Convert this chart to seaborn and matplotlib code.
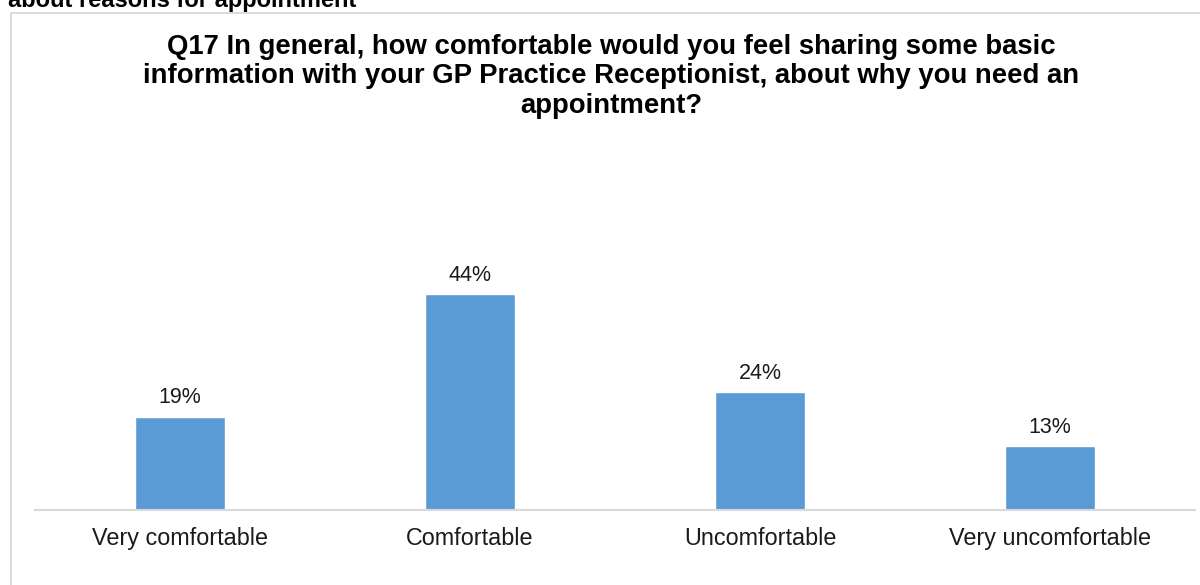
import matplotlib
matplotlib.use("Agg")
import matplotlib.pyplot as plt
import seaborn as sns
import pandas as pd
from matplotlib.patches import Rectangle

categories = ["Very comfortable", "Comfortable", "Uncomfortable", "Very uncomfortable"]
values = [19, 44, 24, 13]
value_labels = ["19%", "44%", "24%", "13%"]

title = ("Q17 In general, how comfortable would you feel sharing some basic\n"
         "information with your GP Practice Receptionist, about why you need an\n"
         "appointment?")
heading = "about reasons for appointment"

sns.set_theme(style="white")
plt.rcParams["font.family"] = ["Liberation Sans", "DejaVu Sans"]

W, H = 1200, 585
fig = plt.figure(figsize=(W / 100, H / 100), dpi=100)

def fx(px):
    return px / W

def fy(py):
    return 1 - py / H

# chart frame
fig.patches.append(Rectangle((fx(10.5), fy(700)), fx(1300), fy(12.5) - fy(700),
                             transform=fig.transFigure, fill=False,
                             edgecolor="#d9d9d9", linewidth=1.3))

fig.text(fx(8), fy(7), heading, fontsize=17, fontweight="bold",
         ha="left", va="baseline", color="black")

# multi-line title anchored on the baseline of its last line
fig.text(fx(611), fy(113), title, fontsize=19.8, fontweight="bold",
         ha="center", va="baseline", color="black", linespacing=1.18)

ax = fig.add_axes([fx(35), fy(510), fx(1195) - fx(35), fy(264.5) - fy(510)])
df = pd.DataFrame({"category": categories, "value": values})
sns.barplot(data=df, x="category", y="value", color="#5B9BD5", saturation=1,
            width=0.31, ax=ax)
ax.set_xlim(-0.5, 3.5)
ax.set_ylim(0, 50)

for i, (v, lab) in enumerate(zip(values, value_labels)):
    ax.annotate(lab, (i, v), xytext=(0, 13.5), textcoords="offset points",
                ha="center", va="center", fontsize=15.5, color="#1a1a1a",
                annotation_clip=False)

ax.set_xlabel("")
ax.set_ylabel("")
ax.set_yticks([])
ax.tick_params(axis="x", length=0, pad=12, labelsize=16.8, labelcolor="#1a1a1a")
for side in ["top", "left", "right"]:
    ax.spines[side].set_visible(False)
ax.spines["bottom"].set_color("#d9d9d9")
ax.spines["bottom"].set_linewidth(1.5)
ax.set_facecolor("none")

fig.savefig("out.png", dpi=100)
